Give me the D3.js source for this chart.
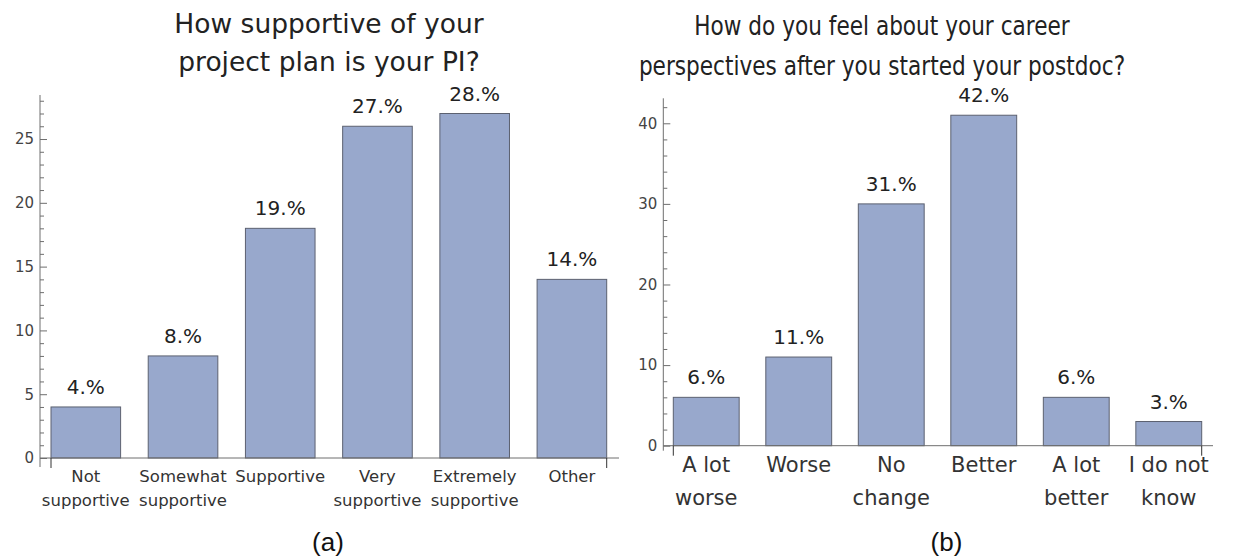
<!DOCTYPE html>
<html>
<head>
<meta charset="utf-8">
<script src="https://cdn.jsdelivr.net/npm/d3@7"></script>
<style>
  html, body { margin: 0; padding: 0; background: #fff; }
  svg { display: block; }
</style>
</head>
<body>
<svg id="chart" width="1248" height="560"></svg>
<script>
// Survey (a): PI support for the project plan
const supportCategories = [["Not", "supportive"], ["Somewhat", "supportive"], ["Supportive"], ["Very", "supportive"], ["Extremely", "supportive"], ["Other"]];
const supportCounts = [4, 8, 18, 26, 27, 14];
const supportLabels = ["4.%", "8.%", "19.%", "27.%", "28.%", "14.%"];
const supportTicks = [0, 5, 10, 15, 20, 25];
const supportTitle = ["How supportive of your", "project plan is your PI?"];

// Survey (b): career perspectives after starting the postdoc
const careerCategories = [["A lot", "worse"], ["Worse"], ["No", "change"], ["Better"], ["A lot", "better"], ["I do not", "know"]];
const careerCounts = [6, 11, 30, 41, 6, 3];
const careerLabels = ["6.%", "11.%", "31.%", "42.%", "6.%", "3.%"];
const careerTicks = [0, 10, 20, 30, 40];
const careerTitle = ["How do you feel about your career", "perspectives after you started your postdoc?"];

const captions = ["(a)", "(b)"];

const svg = d3.select("#chart");
const FONT = "'DejaVu Sans', Verdana, sans-serif";
const AXIS = "#6e6e6e";
const BAR_FILL = "#98a8cc";
const BAR_EDGE = "#5c6170";

function drawPanel(cfg) {
  const g = svg.append("g");
  const y = d3.scaleLinear().domain([0, cfg.yMax]).range([cfg.y0, cfg.yTop]);
  const x = d3.scaleBand()
    .domain(d3.range(cfg.counts.length))
    .range([cfg.barLeft, cfg.barRight])
    .paddingInner(cfg.padInner)
    .paddingOuter(0);

  // bars
  g.selectAll("rect.bar").data(cfg.counts).join("rect")
    .attr("class", "bar")
    .attr("x", (d, i) => x(i))
    .attr("width", x.bandwidth())
    .attr("y", d => y(d))
    .attr("height", d => y(0) - y(d))
    .attr("fill", BAR_FILL)
    .attr("stroke", BAR_EDGE)
    .attr("stroke-width", 1);

  // value labels
  g.selectAll("text.val").data(cfg.counts).join("text")
    .attr("class", "val")
    .attr("x", (d, i) => x(i) + x.bandwidth() / 2)
    .attr("y", d => y(d) - 13)
    .attr("text-anchor", "middle")
    .attr("font-family", FONT)
    .attr("font-size", 20)
    .attr("fill", "#222")
    .text((d, i) => cfg.labels[i]);

  // y axis: minor ticks
  const minor = d3.range(0, Math.floor(cfg.yMax) + 1, cfg.minorStep)
    .filter(v => !cfg.ticks.includes(v));
  g.append("g")
    .attr("transform", `translate(${cfg.axisX},0)`)
    .call(d3.axisLeft(y).tickValues(minor).tickSize(-4).tickFormat(""))
    .call(a => a.select(".domain").remove())
    .call(a => a.selectAll("line").attr("stroke", AXIS));

  // y axis: major ticks with labels
  g.append("g")
    .attr("transform", `translate(${cfg.axisX},0)`)
    .call(d3.axisLeft(y).tickValues(cfg.ticks).tickSize(-7).tickPadding(6))
    .call(a => a.select(".domain").remove())
    .call(a => a.selectAll("line").attr("stroke", AXIS))
    .call(a => a.selectAll("text")
      .attr("font-family", FONT)
      .attr("font-size", 15)
      .attr("fill", "#444"));

  // axis lines
  g.append("line")
    .attr("x1", cfg.axisX).attr("x2", cfg.axisX)
    .attr("y1", cfg.yTop).attr("y2", y(0) + cfg.yOver)
    .attr("stroke", AXIS);
  g.append("line")
    .attr("x1", cfg.axisX).attr("x2", cfg.xEnd)
    .attr("y1", y(0)).attr("y2", y(0))
    .attr("stroke", AXIS);

  // end ticks at the outer bar edges
  [x(0), x(cfg.counts.length - 1) + x.bandwidth()].forEach(px => {
    g.append("line")
      .attr("x1", px).attr("x2", px)
      .attr("y1", y(0)).attr("y2", y(0) + 10)
      .attr("stroke", "#333");
  });

  // category labels
  const cats = g.selectAll("text.cat").data(cfg.categories).join("text")
    .attr("class", "cat")
    .attr("text-anchor", "middle")
    .attr("font-family", FONT)
    .attr("font-size", cfg.catSize)
    .attr("fill", "#333");
  cats.each(function (lines, i) {
    const t = d3.select(this);
    lines.forEach((s, k) => {
      t.append("tspan")
        .attr("x", x(i) + x.bandwidth() / 2)
        .attr("y", cfg.catBase + k * cfg.catGap)
        .text(s);
    });
  });

  // title
  const title = g.append("text")
    .attr("text-anchor", "middle")
    .attr("font-family", FONT)
    .attr("font-size", cfg.titleSize)
    .attr("fill", "#222")
    .attr("transform", `translate(${cfg.titleX},0) scale(${cfg.titleScale},1)`);
  cfg.title.forEach((s, k) => {
    title.append("tspan").attr("x", 0).attr("y", cfg.titleBase[k]).text(s);
  });

  // caption
  g.append("text")
    .attr("x", cfg.captionX)
    .attr("y", 551)
    .attr("text-anchor", "middle")
    .attr("font-family", "'Liberation Sans', Arial, sans-serif")
    .attr("font-size", 26)
    .attr("fill", "#111")
    .text(cfg.caption);
}

drawPanel({
  counts: supportCounts, labels: supportLabels, categories: supportCategories,
  ticks: supportTicks, minorStep: 1, yMax: 28.45, y0: 458, yTop: 95, yOver: 9,
  axisX: 40, xEnd: 619, barLeft: 51, barRight: 606.7, padInner: 0.284,
  catSize: 16.5, catBase: 481.5, catGap: 24.5,
  title: supportTitle, titleSize: 26.5, titleScale: 1, titleX: 329, titleBase: [33, 71],
  caption: captions[0], captionX: 328
});

drawPanel({
  counts: careerCounts, labels: careerLabels, categories: careerCategories,
  ticks: careerTicks, minorStep: 2, yMax: 43.1, y0: 445.7, yTop: 98.3, yOver: 5,
  axisX: 663.3, xEnd: 1213, barLeft: 673.3, barRight: 1201.7, padInner: 0.288,
  catSize: 21, catBase: 471.5, catGap: 33.5,
  title: careerTitle, titleSize: 26, titleScale: 0.832, titleX: 882, titleBase: [35, 75],
  caption: captions[1], captionX: 946.5
});
</script>
</body>
</html>
